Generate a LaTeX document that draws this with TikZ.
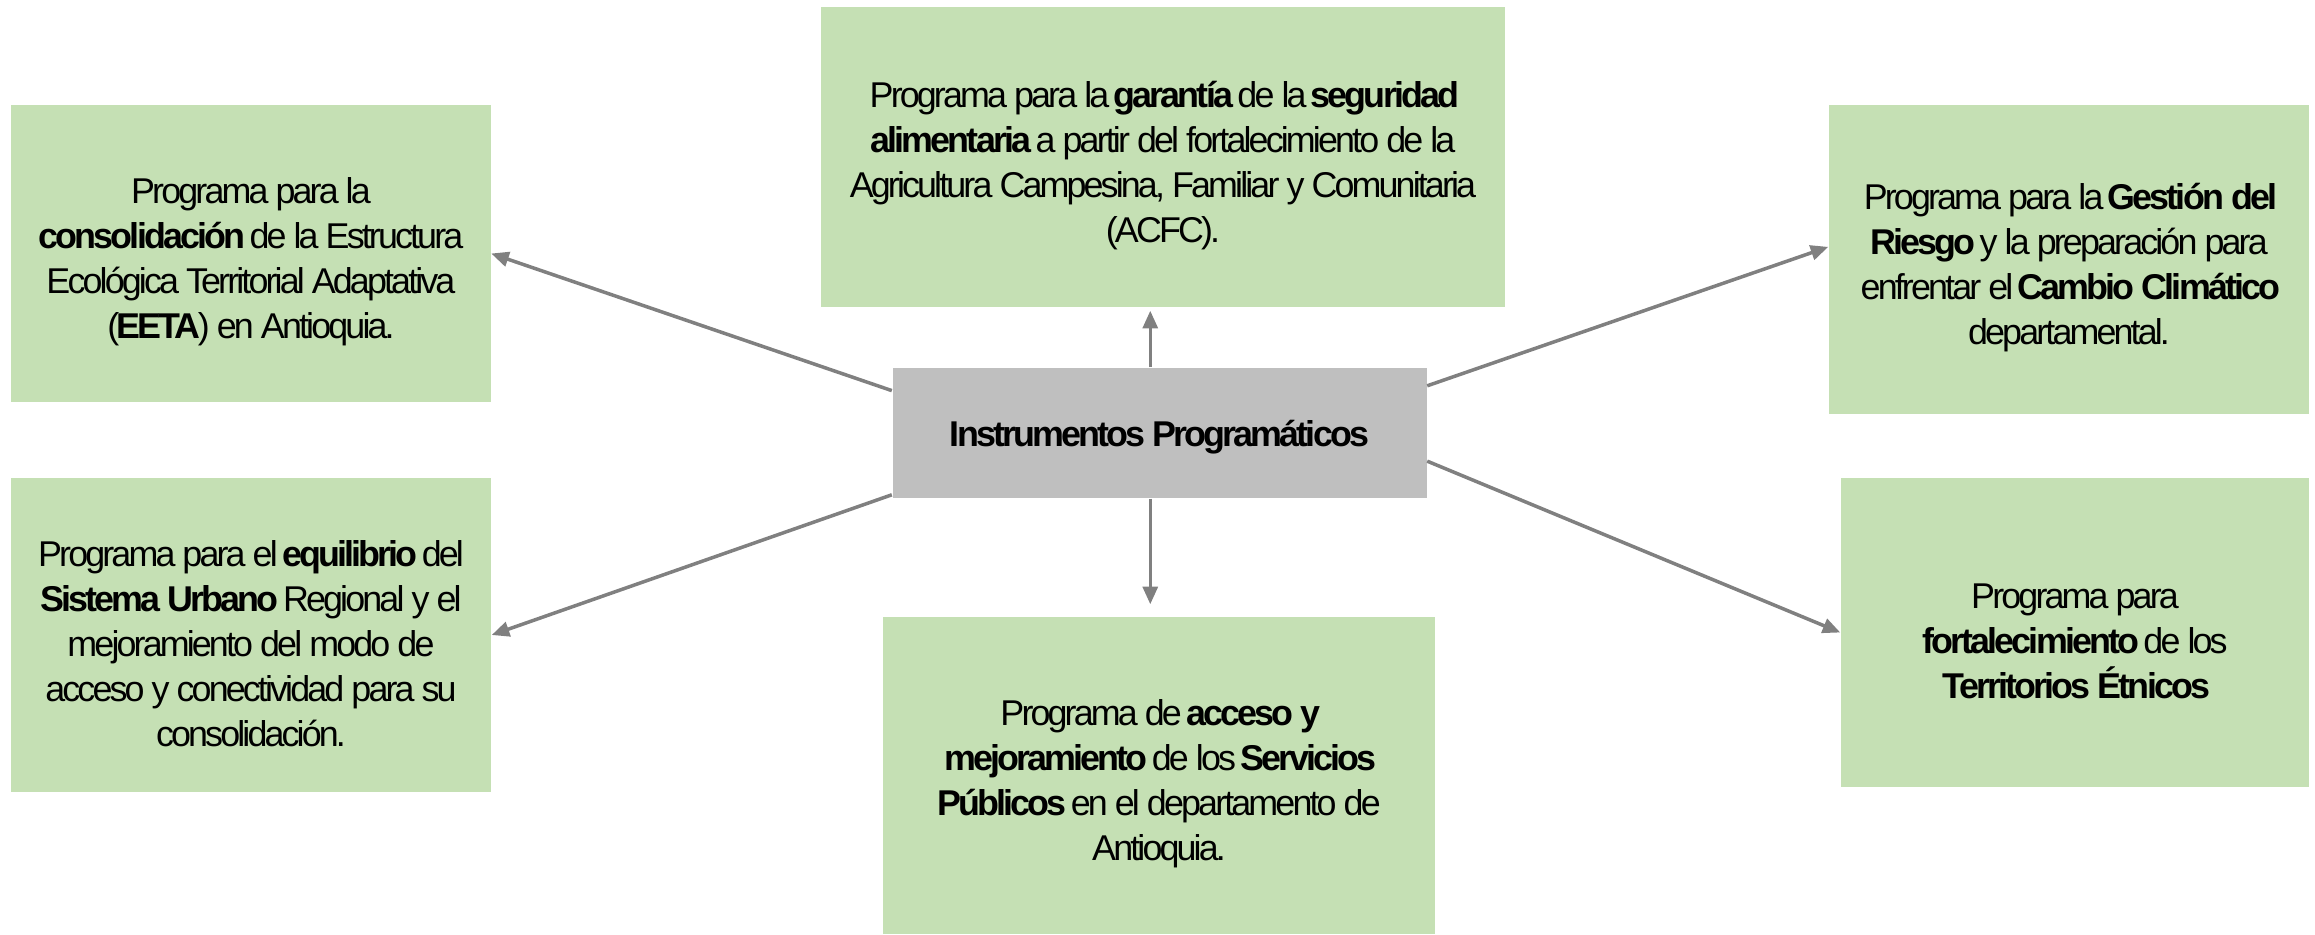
\documentclass[tikz,border=0pt]{standalone}
\usepackage{fontspec}
\setmainfont{Liberation Sans}[LetterSpace=-8]
\usetikzlibrary{arrows.meta}

\definecolor{boxgreen}{HTML}{C5E0B4}
\definecolor{boxgray}{HTML}{BFBFBF}
\definecolor{linkgray}{HTML}{808080}
\newcommand{\topgap}{\rule{0pt}{0.43cm}}

\begin{document}
\begin{tikzpicture}[>={Triangle[length=5pt,width=4.2pt]},
  prog/.style={rectangle, fill=boxgreen, inner sep=0pt, align=center,
    font=\fontsize{10.2}{12.8}\selectfont},
  core/.style={rectangle, fill=boxgray, inner sep=0pt, align=center,
    font=\fontsize{10.2}{12.8}\selectfont\bfseries,
    execute at begin node={\rule{0pt}{0.35cm}}},
  link/.style={->, draw=linkgray, line width=1pt}]
\useasboundingbox (0,0) rectangle (23.15,9.34);

\node (ctr) at (11.595,5.01) [core, minimum width=5.34cm, minimum height=1.30cm] {Instrumentos Programáticos};

\node (tl) at (2.51,6.805) [prog, minimum width=4.79cm, minimum height=2.97cm]
  {\topgap Programa para la\\ \textbf{consolidación} de la Estructura\\ Ecológica Territorial Adaptativa\\ (\textbf{EETA}) en Antioquia.};
\node (bl) at (2.51,2.99) [prog, minimum width=4.80cm, minimum height=3.14cm]
  {\topgap Programa para el \textbf{equilibrio} del\\ \textbf{Sistema Urbano} Regional y el\\ mejoramiento del modo de\\ acceso y conectividad para su\\ consolidación.};
\node (tc) at (11.63,7.77) [prog, minimum width=6.84cm, minimum height=3.00cm]
  {\topgap Programa para la \textbf{garantía} de la \textbf{seguridad}\\ \textbf{alimentaria} a partir del fortalecimiento de la\\ Agricultura Campesina, Familiar y Comunitaria\\ (ACFC).};
\node (bc) at (11.59,1.585) [prog, minimum width=5.52cm, minimum height=3.17cm]
  {\topgap Programa de \textbf{acceso y}\\ \textbf{mejoramiento} de los \textbf{Servicios}\\ \textbf{Públicos} en el departamento de\\ Antioquia.};
\node (tr) at (20.69,6.745) [prog, minimum width=4.80cm, minimum height=3.09cm]
  {\topgap Programa para la \textbf{Gestión del}\\ \textbf{Riesgo} y la preparación para\\ enfrentar el \textbf{Cambio Climático}\\ departamental.};
\node (br) at (20.75,3.015) [prog, minimum width=4.68cm, minimum height=3.09cm]
  {\topgap Programa para\\ \textbf{fortalecimiento} de los\\ \textbf{Territorios Étnicos}};

% connectors
\draw[link] (ctr.171) -- (tl.east);
\draw[link] (ctr.193) -- (bl.east);
\draw[link, shorten >=0.03cm] (ctr.98) -- (ctr.98 |- tc.south);
\draw[link, shorten >=0.12cm] (ctr.262) -- (ctr.262 |- bc.north);
\draw[link] (ctr.10) -- (tr.177);
\draw[link] (ctr.354) -- (br.west);
\end{tikzpicture}
\end{document}
